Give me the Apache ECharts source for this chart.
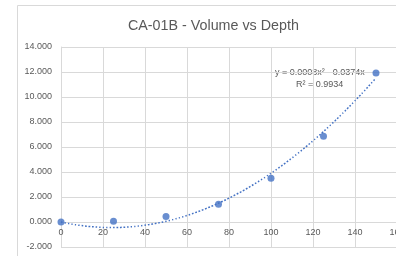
<!DOCTYPE html>
<html>
<head>
<meta charset="utf-8">
<script src="https://cdn.jsdelivr.net/npm/echarts@6/dist/echarts.min.js"></script>
<style>
  html, body { margin: 0; padding: 0; background: #fff; }
  #chart { width: 396px; height: 256px; }
</style>
</head>
<body>
<div id="chart"></div>
<script>
// data
const depth = [0, 25, 50, 75, 100, 125, 150]
const volume = [0.000, 0.070, 0.450, 1.430, 3.500, 6.870, 11.920]
const xTicks = { min: 0, max: 160, interval: 20 }
const yTicks = { min: -2, max: 14, interval: 2 }
const equationText = 'y = 0.0008x² - 0.0374x'
const r2Text = 'R² = 0.9934'

// 2nd order polynomial least squares fit, intercept fixed at 0 (y = a x^2 + b x)
function polyFit(xs, ys) {
    let s4 = 0, s3 = 0, s2 = 0, s2y = 0, s1y = 0
    xs.forEach((x, i) => {
        s4 += x ** 4; s3 += x ** 3; s2 += x ** 2
        s2y += x * x * ys[i]; s1y += x * ys[i]
    })
    const det = s4 * s2 - s3 * s3
    const a = (s2y * s2 - s3 * s1y) / det
    const b = (s4 * s1y - s3 * s2y) / det
    return x => a * x * x + b * x
}
const fit = polyFit(depth, volume)
const trend = []
for (let x = depth[0]; x <= depth[depth.length - 1]; x += 1.5) trend.push([x, fit(x)])

const grey = '#595959'
const gridGrey = '#d9d9d9'
const blue = '#4472c4'
const font = 'Liberation Sans, Arial, sans-serif'

const myChart = echarts.init(document.getElementById('chart'))
myChart.setOption({
    animation: false,
    title: {
        text: 'CA-01B - Volume vs Depth',
        left: 123, top: 14,
        textStyle: { fontFamily: font, fontSize: 14.3, fontWeight: 'normal', color: grey }
    },
    graphic: [
        { type: 'rect', shape: { x: 17.5, y: 5.5, width: 400, height: 300 },
          style: { fill: 'none', stroke: gridGrey, lineWidth: 1 }, silent: true },
        { type: 'text', left: 275, top: 68,
          style: { text: equationText, fontFamily: font, fontSize: 9, fill: grey } },
        { type: 'text', left: 296, top: 80,
          style: { text: r2Text, fontFamily: font, fontSize: 9, fill: grey } }
    ],
    grid: { left: 61, top: 47, right: -1, bottom: 9, containLabel: false, outerBoundsMode: 'none' },
    xAxis: {
        type: 'value',
        min: xTicks.min, max: xTicks.max, interval: xTicks.interval,
        axisLine: { onZero: true, lineStyle: { color: gridGrey } },
        axisTick: { show: false },
        // labels sit just under the zero line, as in the source chart
        axisLabel: { color: grey, fontFamily: font, fontSize: 9, margin: -18.5, showMaxLabel: true },
        splitLine: { show: true, lineStyle: { color: gridGrey } }
    },
    yAxis: {
        type: 'value',
        min: yTicks.min, max: yTicks.max, interval: yTicks.interval,
        axisLine: { show: true, lineStyle: { color: gridGrey } },
        axisTick: { show: false },
        axisLabel: { color: grey, fontFamily: font, fontSize: 9, margin: 9,
                     formatter: v => v.toFixed(3) },
        splitLine: { show: true, lineStyle: { color: gridGrey } }
    },
    series: [
        {
            type: 'line',
            data: trend,
            showSymbol: false,
            smooth: true,
            lineStyle: { color: blue, width: 1.5, type: [1.5, 2] },
            z: 2
        },
        {
            type: 'scatter',
            data: depth.map((d, i) => [d, volume[i]]),
            symbolSize: 7,
            itemStyle: { color: blue },
            z: 3
        }
    ]
})
</script>
</body>
</html>
